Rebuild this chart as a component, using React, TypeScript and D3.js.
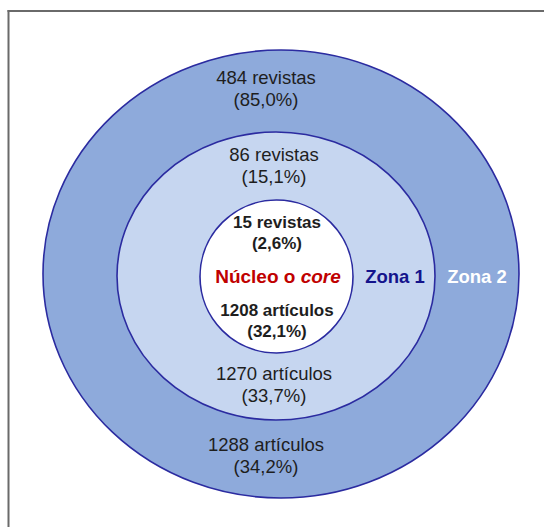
import React from "react";
import * as d3 from "d3";

// Bradford zones: core, zone 1, zone 2
const zones = ["Núcleo o core", "Zona 1", "Zona 2"];
const journals = [15, 86, 484];
const journalPct = ["2,6%", "15,1%", "85,0%"];
const articles = [1208, 1270, 1288];
const articlePct = ["32,1%", "33,7%", "34,2%"];

const W = 544;
const H = 527;

// ring geometry, innermost first
const rings = [
  { cx: 276.5, cy: 276.5, rx: 76.5, ry: 76.5 },
  { cx: 276, cy: 276, rx: 159, ry: 144 },
  { cx: 281, cy: 274, rx: 238, ry: 224 },
];

// label anchors, innermost first
const labelLayout = [
  { x: 277, top: 228, bottom: 316, bold: true, size: 17, lh: 21 },
  { x: 274, top: 161, bottom: 380, bold: false, size: 18.5, lh: 22 },
  { x: 266, top: 84, bottom: 451, bold: false, size: 18.5, lh: 22 },
];
const zoneNameLayout = [
  { x: 278, y: 283, size: 19 },
  { x: 395, y: 283, size: 18.5 },
  { x: 477, y: 283, size: 18.5 },
];

const fill = d3.scaleOrdinal<string, string>().domain(zones).range(["#ffffff", "#c6d6f0", "#8eaadb"]);
const nameColor = d3.scaleOrdinal<string, string>().domain(zones).range(["#c00000", "#14148c", "#ffffff"]);
const fmtInt = d3.format("d");

const STROKE = "#2b2ba0";
const FONT = "'Liberation Sans', Arial, Helvetica, sans-serif";

function Label({ x, y, size, bold, color, children }: any) {
  return (
    <text
      x={x}
      y={y}
      textAnchor="middle"
      fontFamily={FONT}
      fontSize={size}
      fontWeight={bold ? 700 : 400}
      fill={color}
    >
      {children}
    </text>
  );
}

export default function App() {
  const order = [2, 1, 0];
  return (
    <svg
      width={W}
      height={H}
      viewBox={`0 0 ${W} ${H}`}
      style={{ position: "absolute", left: 0, top: 0, background: "#ffffff" }}
    >
      <rect x={0} y={0} width={W} height={H} fill="#ffffff" />
      {/* frame */}
      <line x1={7.5} y1={11} x2={W} y2={11} stroke="#6a6a6a" strokeWidth={2} />
      <line x1={8.5} y1={10} x2={8.5} y2={H} stroke="#6a6a6a" strokeWidth={2} />

      {order.map((i) => (
        <ellipse
          key={zones[i]}
          cx={rings[i].cx}
          cy={rings[i].cy}
          rx={rings[i].rx}
          ry={rings[i].ry}
          fill={fill(zones[i])}
          stroke={STROKE}
          strokeWidth={1.6}
        />
      ))}

      {zones.map((z, i) => {
        const L = labelLayout[i];
        const col = "#1e1e1e";
        return (
          <g key={`lbl-${z}`}>
            <Label x={L.x} y={L.top} size={L.size} bold={L.bold} color={col}>
              {`${fmtInt(journals[i])} revistas`}
            </Label>
            <Label x={L.x} y={L.top + L.lh} size={L.size} bold={L.bold} color={col}>
              {`(${journalPct[i]})`}
            </Label>
            <Label x={L.x} y={L.bottom} size={L.size} bold={L.bold} color={col}>
              {`${fmtInt(articles[i])} artículos`}
            </Label>
            <Label x={L.x} y={L.bottom + L.lh} size={L.size} bold={L.bold} color={col}>
              {`(${articlePct[i]})`}
            </Label>
          </g>
        );
      })}

      {zones.map((z, i) => {
        const P = zoneNameLayout[i];
        if (i === 0) {
          const parts = z.split(" ");
          return (
            <Label key={`name-${z}`} x={P.x} y={P.y} size={P.size} bold color={nameColor(z)}>
              {`${parts[0]} ${parts[1]} `}
              <tspan fontStyle="italic">{parts[2]}</tspan>
            </Label>
          );
        }
        return (
          <Label key={`name-${z}`} x={P.x} y={P.y} size={P.size} bold color={nameColor(z)}>
            {z}
          </Label>
        );
      })}
    </svg>
  );
}
